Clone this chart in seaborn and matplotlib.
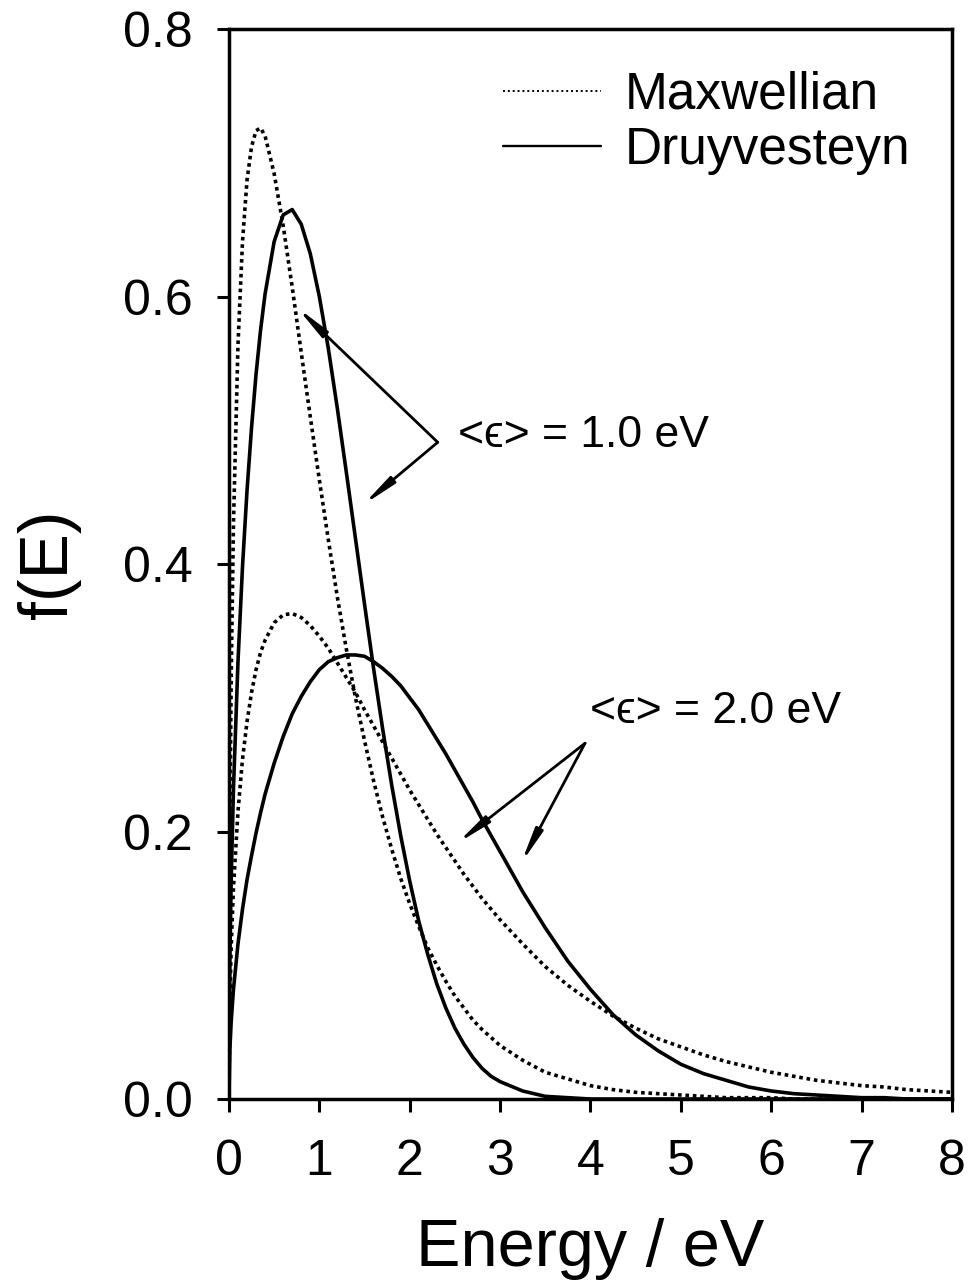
import matplotlib
matplotlib.use("Agg")
import matplotlib.pyplot as plt
from matplotlib.lines import Line2D
import seaborn as sns

# Electron energy distribution functions f(E), read at these energies (eV)
energy = [0, 0.01, 0.025, 0.05, 0.1, 0.15, 0.2, 0.25, 0.3, 0.35, 0.4,
          0.5, 0.6, 0.7, 0.8, 0.9, 1.0, 1.1, 1.2, 1.3, 1.4,
          1.5, 1.6, 1.7, 1.8, 1.9, 2.0, 2.1, 2.2, 2.3, 2.4,
          2.5, 2.6, 2.7, 2.8, 2.9, 3.0,
          3.25, 3.5, 3.75, 4.0, 4.25, 4.5, 4.75, 5.0, 5.25, 5.5, 5.75, 6.0,
          6.25, 6.5, 6.75, 7.0, 7.25, 7.5, 7.75, 8.0]

# Maxwellian, mean energy 1.0 eV
maxwell_1ev = [0, 0.204, 0.316, 0.430, 0.564, 0.641, 0.687, 0.712, 0.724, 0.726, 0.720,
               0.692, 0.653, 0.607, 0.558, 0.510, 0.463, 0.418, 0.375, 0.336, 0.300,
               0.268, 0.238, 0.211, 0.187, 0.165, 0.146, 0.129, 0.113, 0.100, 0.088,
               0.077, 0.068, 0.059, 0.052, 0.046, 0.040,
               0.029, 0.020, 0.015, 0.010, 0.007, 0.005, 0.004, 0.003, 0.002, 0.001,
               0.001, 0.001,
               0.0, 0.0, 0.0, 0.0, 0.0, 0.0, 0.0, 0.0]

# Maxwellian, mean energy 2.0 eV
maxwell_2ev = [0, 0.073, 0.114, 0.158, 0.215, 0.254, 0.282, 0.304, 0.321, 0.334, 0.343,
               0.356, 0.362, 0.363, 0.360, 0.354, 0.346, 0.337, 0.326, 0.315, 0.304,
               0.291, 0.279, 0.267, 0.255, 0.243, 0.231, 0.220, 0.209, 0.198, 0.188,
               0.178, 0.168, 0.159, 0.150, 0.142, 0.134,
               0.116, 0.099, 0.085, 0.073, 0.062, 0.053, 0.045, 0.039, 0.033, 0.028,
               0.024, 0.020,
               0.017, 0.014, 0.012, 0.010, 0.009, 0.007, 0.006, 0.005]

# Druyvesteyn, mean energy 1.0 eV
druyv_1ev = [0, 0.104, 0.164, 0.232, 0.327, 0.398, 0.455, 0.502, 0.542, 0.575, 0.602,
             0.641, 0.661, 0.665, 0.654, 0.632, 0.600, 0.561, 0.516, 0.468, 0.419,
             0.370, 0.322, 0.277, 0.235, 0.197, 0.163, 0.133, 0.108, 0.086, 0.068,
             0.053, 0.041, 0.031, 0.023, 0.017, 0.013,
             0.006, 0.002, 0.001, 0.0, 0.0, 0.0, 0.0, 0.0, 0.0, 0.0, 0.0, 0.0,
             0.0, 0.0, 0.0, 0.0, 0.0, 0.0, 0.0, 0.0]

# Druyvesteyn, mean energy 2.0 eV
druyv_2ev = [0, 0.037, 0.058, 0.082, 0.116, 0.142, 0.164, 0.182, 0.199, 0.214, 0.228,
             0.251, 0.271, 0.288, 0.301, 0.312, 0.321, 0.327, 0.330, 0.332, 0.332,
             0.331, 0.327, 0.322, 0.316, 0.309, 0.300, 0.291, 0.280, 0.269, 0.258,
             0.246, 0.234, 0.222, 0.209, 0.197, 0.185,
             0.155, 0.128, 0.103, 0.082, 0.063, 0.048, 0.036, 0.026, 0.019, 0.014,
             0.009, 0.006,
             0.004, 0.003, 0.002, 0.001, 0.001, 0.0, 0.0, 0.0]

x_ticks = [0, 1, 2, 3, 4, 5, 6, 7, 8]
y_ticks = [0.0, 0.2, 0.4, 0.6, 0.8]
y_tick_labels = ["0.0", "0.2", "0.4", "0.6", "0.8"]
legend_labels = ["Maxwellian", "Druyvesteyn"]

sns.set_theme(style="ticks", rc={
    "axes.edgecolor": "black",
    "axes.linewidth": 2.4,
    "xtick.color": "black",
    "ytick.color": "black",
    "text.color": "black",
    "axes.labelcolor": "black",
})
plt.rcParams["font.family"] = ["Liberation Sans", "DejaVu Sans"]

fig = plt.figure(figsize=(9.73, 12.83), dpi=100)
ax = fig.add_axes([0.2353, 0.1434, 0.7431, 0.834])

dotted = (0, (1.0, 1.05))
curves = [
    (maxwell_1ev, dotted),
    (maxwell_2ev, dotted),
    (druyv_1ev, "-"),
    (druyv_2ev, "-"),
]
for values, style in curves:
    sns.lineplot(x=energy, y=values, ax=ax, color="black", linewidth=2.6,
                 linestyle=style, sort=False, estimator=None, legend=False)

ax.set_xlim(0, 8)
ax.set_ylim(0, 0.8)
ax.set_xticks(x_ticks)
ax.set_xticklabels([str(t) for t in x_ticks])
ax.set_yticks(y_ticks)
ax.set_yticklabels(y_tick_labels)
for side in ["top", "right", "left", "bottom"]:
    ax.spines[side].set_visible(True)
    ax.spines[side].set_linewidth(2.5)
ax.tick_params(axis="both", direction="out", length=9, width=2.2,
               labelsize=36, top=False, right=False)
ax.tick_params(axis="x", pad=20)
ax.tick_params(axis="y", pad=17)

ax.set_xlabel("Energy / eV", fontsize=48)
ax.set_ylabel("f(E)", fontsize=49)
ax.xaxis.set_label_coords(0.5, -0.111)
ax.yaxis.set_label_coords(-0.205, 0.5)

# Legend
handles = [
    Line2D([], [], color="black", linewidth=1.4, linestyle=(0, (1.0, 1.5))),
    Line2D([], [], color="black", linewidth=1.7),
]
ax.legend(handles, legend_labels, loc="upper left", bbox_to_anchor=(0.379, 0.961),
          frameon=False, fontsize=37, handlelength=1.9, handletextpad=0.47,
          labelspacing=0.13, borderpad=0, borderaxespad=0)

# Mean-energy annotations with pointer arrows
arrow_kw = dict(arrowstyle="-|>,head_length=1.0,head_width=0.12", color="black",
                lw=2.0, shrinkA=0, shrinkB=0, mutation_scale=20)

ax.text(2.53, 0.4875, "<\u03f5> = 1.0 eV", fontsize=32, ha="left", va="baseline")
for tip in [(0.75, 0.592), (1.48, 0.444)]:
    ax.annotate("", xy=tip, xytext=(2.31, 0.491), arrowprops=arrow_kw)

ax.text(4.0, 0.281, "<\u03f5> = 2.0 eV", fontsize=32, ha="left", va="baseline")
for tip in [(2.52, 0.191), (3.23, 0.176)]:
    ax.annotate("", xy=tip, xytext=(3.94, 0.266), arrowprops=arrow_kw)

fig.savefig("out.png", dpi=100, facecolor="white")
